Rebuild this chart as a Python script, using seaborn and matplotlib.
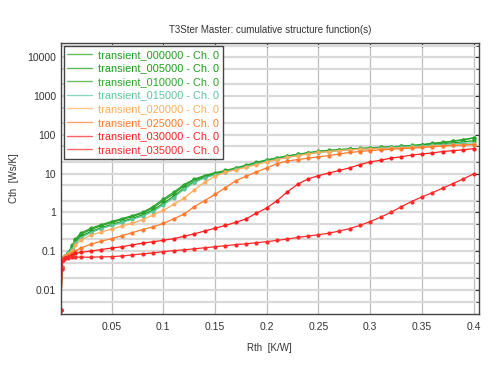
import numpy as np
import pandas as pd
import matplotlib
matplotlib.use("Agg")
import matplotlib.pyplot as plt
from matplotlib.lines import Line2D
from matplotlib.ticker import LogLocator, FixedLocator, NullFormatter
import seaborn as sns

# Rth grid shared by all curves [K/W]
rth = [0.001, 0.002, 0.003, 0.005, 0.008, 0.012, 0.015, 0.02, 0.03, 0.04,
       0.05, 0.06, 0.07, 0.08, 0.09, 0.10, 0.11, 0.12, 0.13, 0.14,
       0.15, 0.16, 0.17, 0.18, 0.19, 0.20, 0.21, 0.22, 0.23, 0.24,
       0.25, 0.26, 0.27, 0.28, 0.29, 0.30, 0.31, 0.32, 0.33, 0.34,
       0.35, 0.36, 0.37, 0.38, 0.39, 0.40]

# Cth values [Ws/K]
cth_000000 = [0.003, 0.04, 0.065, 0.075, 0.09, 0.13, 0.19, 0.27, 0.36, 0.45,
              0.55, 0.65, 0.78, 0.95, 1.3, 2.0, 3.0, 4.8, 6.8, 8.5,
              10.0, 11.5, 13.5, 16, 19, 22, 25, 28, 31, 34,
              37, 39, 41, 43, 44, 45, 47, 48, 50, 52,
              55, 59, 63, 68, 74, 82]
cth_005000 = [0.003, 0.04, 0.064, 0.074, 0.088, 0.12, 0.17, 0.24, 0.32, 0.40,
              0.49, 0.58, 0.70, 0.86, 1.15, 1.7, 2.6, 4.2, 6.2, 8.0,
              9.6, 11.2, 13.2, 15.5, 18, 21, 24, 27, 30, 33,
              36, 38, 40, 42, 43, 44, 46, 47, 49, 51,
              53, 56, 59, 62, 66, 70]
cth_010000 = [0.003, 0.04, 0.066, 0.076, 0.092, 0.14, 0.20, 0.29, 0.39, 0.48,
              0.58, 0.69, 0.82, 1.0, 1.4, 2.2, 3.3, 5.2, 7.2, 8.9,
              10.5, 12.0, 14.0, 16.5, 19.5, 22.5, 25.5, 28.5, 31.5, 34.5,
              37.5, 39.5, 41.5, 43, 44.5, 46, 47.5, 49, 51, 53,
              56, 60, 64, 69, 75, 84]
cth_015000 = [0.003, 0.04, 0.064, 0.074, 0.087, 0.115, 0.16, 0.22, 0.30, 0.38,
              0.46, 0.55, 0.66, 0.80, 1.05, 1.55, 2.4, 3.9, 5.9, 7.7,
              9.3, 11.0, 13.0, 15.2, 17.8, 20.5, 23.5, 26.5, 29.5, 32.5,
              35, 37, 39, 41, 42.5, 44, 45.5, 47, 48.5, 50,
              52, 54, 56, 58, 60, 62]
cth_020000 = [0.003, 0.04, 0.065, 0.075, 0.085, 0.10, 0.14, 0.19, 0.26, 0.31,
              0.37, 0.44, 0.52, 0.65, 0.85, 1.12, 1.6, 2.3, 3.8, 6.0,
              8.5, 10.8, 12.5, 14.5, 17, 20, 23, 26, 29, 32,
              35, 37, 39, 41, 42, 43, 44, 45, 46, 48,
              49, 51, 52, 54, 55, 57]
cth_025000 = [0.003, 0.04, 0.065, 0.072, 0.08, 0.09, 0.10, 0.12, 0.15, 0.18,
              0.21, 0.25, 0.30, 0.36, 0.42, 0.52, 0.68, 0.90, 1.4, 2.0,
              2.9, 4.3, 6.5, 8.5, 11, 14, 18, 21, 23, 25,
              27, 29, 32, 35, 37, 39, 41, 42, 44, 45,
              47, 49, 51, 53, 54, 56]
cth_030000 = [0.003, 0.035, 0.058, 0.065, 0.072, 0.08, 0.087, 0.093, 0.10, 0.11,
              0.12, 0.13, 0.145, 0.16, 0.175, 0.19, 0.21, 0.24, 0.28, 0.33,
              0.39, 0.46, 0.55, 0.68, 0.95, 1.3, 2.0, 3.4, 5.3, 7.3,
              8.8, 10.3, 12, 14, 17, 20, 22, 25, 27, 30,
              32, 34, 37, 39, 41, 44]
cth_035000 = [0.003, 0.035, 0.058, 0.065, 0.068, 0.07, 0.07, 0.07, 0.07, 0.071,
              0.072, 0.075, 0.08, 0.085, 0.09, 0.097, 0.103, 0.108, 0.115, 0.122,
              0.13, 0.138, 0.147, 0.155, 0.165, 0.175, 0.19, 0.205, 0.225, 0.245,
              0.265, 0.29, 0.33, 0.38, 0.46, 0.58, 0.75, 1.0, 1.4, 1.9,
              2.5, 3.2, 4.2, 5.5, 7.3, 9.8]

names = ["transient_000000 - Ch. 0", "transient_005000 - Ch. 0",
         "transient_010000 - Ch. 0", "transient_015000 - Ch. 0",
         "transient_020000 - Ch. 0", "transient_025000 - Ch. 0",
         "transient_030000 - Ch. 0", "transient_035000 - Ch. 0"]
series = [cth_000000, cth_005000, cth_010000, cth_015000,
          cth_020000, cth_025000, cth_030000, cth_035000]
colors = ["#22a022", "#1b9a1b", "#2aa52a", "#5cc69a",
          "#ffad5c", "#ff7a2e", "#ff1f1f", "#ff2a2a"]

# long-form table for seaborn
df = pd.concat([pd.DataFrame({"Rth": rth, "Cth": s, "curve": n})
                for n, s in zip(names, series)], ignore_index=True)

sns.set_style("white")
plt.rcParams['font.family'] = ['Liberation Sans', 'DejaVu Sans']

fig = plt.figure(figsize=(5.03, 3.72), dpi=100)
ax = fig.add_axes([0.121, 0.156, 0.831, 0.728])

sns.lineplot(data=df, x="Rth", y="Cth", hue="curve", palette=dict(zip(names, colors)),
             hue_order=names, marker="o", markersize=3, markeredgewidth=0,
             linewidth=0.9, legend=False, ax=ax, estimator=None, sort=False)

ax.set_yscale("log")
ax.set_xlim(0.001, 0.405)
ax.set_ylim(0.0024, 23000)

ax.xaxis.set_major_locator(FixedLocator([0.05, 0.1, 0.15, 0.2, 0.25, 0.3, 0.35, 0.4]))
ax.set_xticklabels(["0.05", "0.1", "0.15", "0.2", "0.25", "0.3", "0.35", "0.4"])
ax.yaxis.set_major_locator(FixedLocator([0.01, 0.1, 1, 10, 100, 1000, 10000]))
ax.set_yticklabels(["0.01", "0.1", "1", "10", "100", "1000", "10000"])
ax.yaxis.set_minor_locator(LogLocator(base=10, subs=[2, 5]))
ax.yaxis.set_minor_formatter(NullFormatter())

# grid: gray verticals, light bands horizontally
ax.grid(True, axis="x", which="major", color="#bdbdbd", linewidth=0.9)
ax.grid(True, axis="y", which="both", color="#d9d9d9", linewidth=1.6)
ax.set_axisbelow(True)

ax.tick_params(axis="both", which="both", direction="in", top=True, right=True,
               labelsize=7.5, colors="#333333", length=3)
ax.tick_params(axis="x", which="major", pad=6)
ax.tick_params(axis="y", which="minor", length=2)
for sp in ax.spines.values():
    sp.set_color("#444444")
    sp.set_linewidth(1.0)

ax.set_title("T3Ster Master: cumulative structure function(s)", fontsize=7, color="#333333", pad=7)
ax.set_xlabel("Rth  [K/W]", fontsize=7, color="#333333", labelpad=8)
ax.set_ylabel("Cth  [Ws/K]", fontsize=7, color="#333333", labelpad=6)

handles = [Line2D([0], [0], color=c, lw=1.0, alpha=0.7) for c in colors]
leg = ax.legend(handles, names, loc="upper left", fontsize=7.9, frameon=True,
                fancybox=False, framealpha=1, edgecolor="#444444",
                borderpad=0.35, labelspacing=0.33, handlelength=2.2,
                handletextpad=0.6, borderaxespad=0.25)
leg.get_frame().set_linewidth(1.0)
for t, c in zip(leg.get_texts(), colors):
    t.set_color(c)

fig.savefig("out.png", dpi=100)
